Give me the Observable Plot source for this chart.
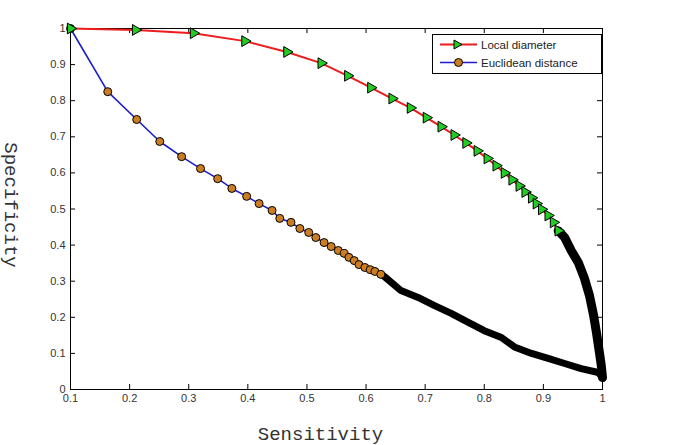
<!DOCTYPE html>
<html><head><meta charset="utf-8">
<script src="https://cdn.jsdelivr.net/npm/d3@7"></script>
<script src="https://cdn.jsdelivr.net/npm/@observablehq/plot@0.6"></script>
<style>
body{margin:0;background:#fff}
#wrap{position:relative;width:685px;height:445px;background:#fff}
#legend{position:absolute;left:432px;top:34px}
</style>
</head><body><div id="wrap"></div>
<script>
const xTicks = [0.1,0.2,0.3,0.4,0.5,0.6,0.7,0.8,0.9,1];
const yTicks = [0,0.1,0.2,0.3,0.4,0.5,0.6,0.7,0.8,0.9,1];
const seriesNames = ["Local diameter", "Euclidean distance"];

// Local diameter: clearly separated markers
const localX = [0.1, 0.21, 0.308, 0.395, 0.466, 0.524, 0.569, 0.608, 0.644, 0.675, 0.702, 0.727, 0.749, 0.769, 0.788, 0.805, 0.82, 0.834, 0.847, 0.859, 0.869, 0.88, 0.888, 0.897, 0.908, 0.917, 0.925];
const localY = [1, 0.996, 0.987, 0.965, 0.935, 0.904, 0.869, 0.836, 0.806, 0.780, 0.753, 0.728, 0.705, 0.683, 0.661, 0.640, 0.620, 0.600, 0.581, 0.564, 0.547, 0.531, 0.515, 0.499, 0.482, 0.463, 0.44];
// Local diameter: dense tail (overlapping markers appear as a black band)
const localTailX = [0.925, 0.936, 0.947, 0.959, 0.969, 0.978, 0.985, 0.990, 0.995, 0.998, 1.0];
const localTailY = [0.44, 0.421, 0.385, 0.352, 0.310, 0.260, 0.205, 0.155, 0.100, 0.066, 0.033];

// Euclidean distance: clearly separated markers
const euclidX = [0.1, 0.163, 0.212, 0.251, 0.288, 0.320, 0.349, 0.373, 0.398, 0.419, 0.441, 0.454, 0.473, 0.488, 0.503, 0.515, 0.529, 0.541, 0.553, 0.563, 0.571, 0.580, 0.588, 0.598, 0.607, 0.615, 0.625];
const euclidY = [1, 0.825, 0.748, 0.687, 0.645, 0.612, 0.584, 0.557, 0.535, 0.515, 0.496, 0.474, 0.463, 0.446, 0.435, 0.421, 0.407, 0.396, 0.385, 0.377, 0.366, 0.357, 0.346, 0.338, 0.332, 0.327, 0.319];
// Euclidean distance: dense tail
const euclidTailX = [0.625, 0.631, 0.659, 0.688, 0.715, 0.744, 0.773, 0.800, 0.829, 0.851, 0.880, 0.908, 0.936, 0.964, 0.993, 1.0];
const euclidTailY = [0.319, 0.313, 0.274, 0.255, 0.233, 0.211, 0.186, 0.163, 0.144, 0.118, 0.100, 0.086, 0.072, 0.058, 0.047, 0.033];

const toPts = (xs, ys) => xs.map((x, i) => ({x, y: ys[i]}));
const local = toPts(localX, localY);
const localTail = toPts(localTailX, localTailY);
const euclid = toPts(euclidX, euclidY);
const euclidTail = toPts(euclidTailX, euclidTailY);

const RED = "#ee1c1c", BLUE = "#1c1ccc", GREEN = "#22cc22", ORANGE = "#cc7d22";
const fmt = d => String(Math.round(d * 10) / 10);

const W = 685, H = 445, ML = 70, MR = 83, MT = 28, MB = 56;
const PW = W - ML - MR, PH = H - MT - MB;
const MONO = "'Liberation Mono', 'Courier New', monospace";

const plot = Plot.plot({
  width: W, height: H,
  marginLeft: ML, marginRight: MR, marginTop: MT, marginBottom: MB,
  x: {domain: [0.1, 1]},
  y: {domain: [0, 1]},
  style: {fontFamily: "'Liberation Sans', Arial, sans-serif", fontSize: "11px", color: "#333", background: "white", overflow: "visible"},
  marks: [
    Plot.axisX(xTicks, {tickSize: 0, tickPadding: 5, label: null, tickFormat: fmt}),
    Plot.axisY(yTicks, {tickSize: 0, tickPadding: 5, label: null, tickFormat: fmt}),
    Plot.tickX(xTicks, {x: d => d, insetTop: PH - 5, stroke: "#000"}),
    Plot.tickX(xTicks, {x: d => d, insetBottom: PH - 5, stroke: "#000"}),
    Plot.tickY(yTicks, {y: d => d, insetRight: PW - 5, stroke: "#000"}),
    Plot.tickY(yTicks, {y: d => d, insetLeft: PW - 5, stroke: "#000"}),
    Plot.frame({stroke: "#000"}),
    Plot.line([...local, ...localTail.slice(1)], {x: "x", y: "y", stroke: RED, strokeWidth: 2}),
    Plot.line([...euclid, ...euclidTail.slice(1)], {x: "x", y: "y", stroke: BLUE, strokeWidth: 1.6}),
    Plot.line(euclidTail, {x: "x", y: "y", stroke: "#000", strokeWidth: 7, strokeLinecap: "round", strokeLinejoin: "round"}),
    Plot.line(localTail, {x: "x", y: "y", stroke: "#000", strokeWidth: 9, strokeLinecap: "round", strokeLinejoin: "round"}),
    Plot.dot(euclid, {x: "x", y: "y", r: 4, fill: ORANGE, stroke: "#000", strokeWidth: 1}),
    Plot.dot(local, {x: "x", y: "y", symbol: "triangle", rotate: 90, r: 4, fill: GREEN, stroke: "#000", strokeWidth: 1}),
    Plot.text(["Sensitivity"], {frameAnchor: "bottom", textAnchor: "middle", dy: 44, dx: -16, fontFamily: MONO, fontSize: 19, fill: "#333", lineAnchor: "middle"}),
    Plot.text(["Specificity"], {frameAnchor: "left", textAnchor: "middle", dx: -59, dy: -4, rotate: 90, fontFamily: MONO, fontSize: 19, fill: "#333", lineAnchor: "middle"})
  ]
});
const wrap = document.getElementById("wrap");
wrap.appendChild(plot);

// Legend
const lg = document.createElementNS("http://www.w3.org/2000/svg", "svg");
lg.setAttribute("id", "legend");
lg.setAttribute("width", 170);
lg.setAttribute("height", 40);
lg.innerHTML = `
<rect x="0.5" y="0.5" width="169" height="39" fill="#fff" stroke="#000"/>
<line x1="8" x2="45" y1="10.5" y2="10.5" stroke="${RED}" stroke-width="2"/>
<path d="M22,6 L30,10.5 L22,15 Z" fill="${GREEN}" stroke="#000"/>
<text x="49" y="14.5" font-family="'Liberation Sans', Arial, sans-serif" font-size="11.5" fill="#222">${seriesNames[0]}</text>
<line x1="8" x2="45" y1="28.5" y2="28.5" stroke="${BLUE}" stroke-width="1.6"/>
<circle cx="26.5" cy="28.5" r="4" fill="${ORANGE}" stroke="#000"/>
<text x="49" y="32.5" font-family="'Liberation Sans', Arial, sans-serif" font-size="11.5" fill="#222">${seriesNames[1]}</text>`;
wrap.appendChild(lg);
</script>
</body></html>
